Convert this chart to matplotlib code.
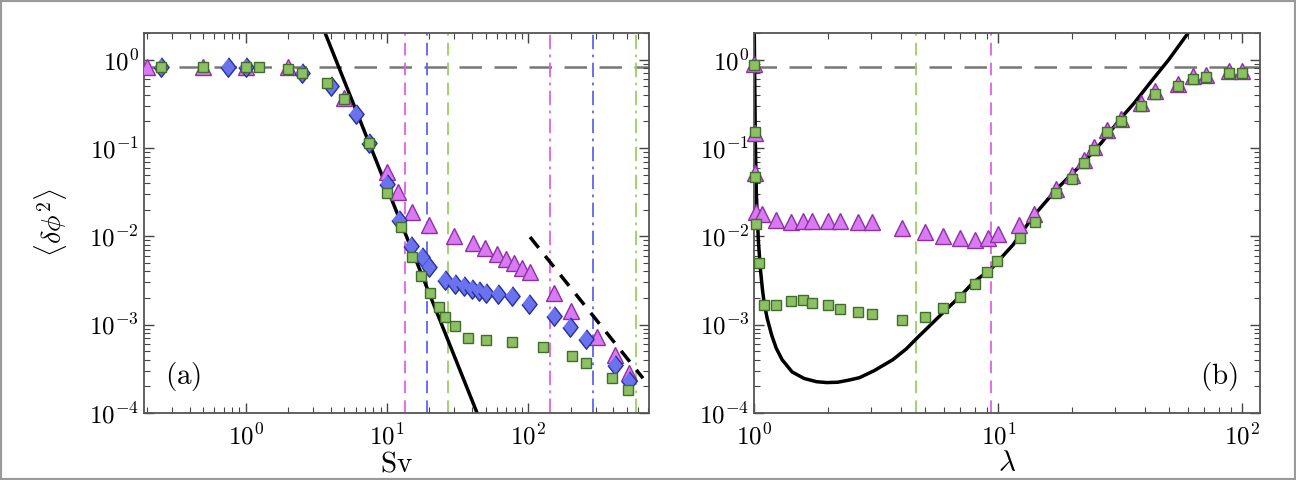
import numpy as np
import matplotlib
matplotlib.use("Agg")
import matplotlib.pyplot as plt
from matplotlib.patches import Rectangle

plt.rcParams['mathtext.fontset'] = 'cm'
plt.rcParams['font.family'] = 'serif'
plt.rcParams['font.serif'] = ['DejaVu Serif']

# ---- panel (a): <dphi^2> vs Sv ----
sv_tri = [0.2, 0.5, 1.0, 2.0, 5.0, 10, 11.9, 15, 20, 30, 40.7, 49.5, 60, 69.8, 79.6,
          90.5, 103, 153, 202, 309, 414, 520]
dp_tri = [0.83, 0.83, 0.83, 0.83, 0.37, 0.054, 0.032, 0.0186, 0.0135, 0.0100, 0.0084,
          0.0073, 0.0063, 0.0055, 0.0050, 0.0044, 0.0039, 0.0023, 0.00143, 7.3e-4,
          4.5e-4, 2.8e-4]

sv_dia = [0.25, 0.75, 1.0, 2.5, 4.0, 6.0, 7.5, 10, 12.2, 14.8, 17.7, 20, 25.8, 30.3,
          35.1, 40, 45, 50.3, 61, 77, 102, 153, 198, 258, 414, 520]
dp_dia = [0.83, 0.83, 0.83, 0.70, 0.50, 0.24, 0.114, 0.039, 0.0151, 0.0077, 0.0058,
          0.0045, 0.0032, 0.0029, 0.0027, 0.0025, 0.0024, 0.0023, 0.0022, 0.0021,
          0.0017, 0.00126, 9.3e-4, 6.9e-4, 3.5e-4, 2.3e-4]

sv_sq = [0.25, 0.5, 1.0, 1.25, 2.0, 2.5, 3.75, 5.0, 7.5, 10, 12.6, 15, 17.4, 20.2,
         23.5, 25.8, 30.3, 37.5, 50.3, 77, 128, 205, 258, 389, 510]
dp_sq = [0.83, 0.83, 0.83, 0.83, 0.78, 0.70, 0.55, 0.36, 0.114, 0.031, 0.0126, 0.0058,
         0.0035, 0.0023, 0.0016, 0.00123, 9.5e-4, 7.1e-4, 6.6e-4, 6.4e-4, 5.5e-4,
         4.4e-4, 3.7e-4, 2.5e-4, 1.8e-4]

sv_dashed = [13.4, 19.2, 27.0]      # vertical dashed lines (magenta, blue, green)
sv_dashdot = [143, 289, 583]        # vertical dash-dot lines (magenta, blue, green)
plateau = 0.82

# power laws drawn in panel (a)
sv_steep = [3.5, 45]
sv_tail = [103, 650]

# ---- panel (b): <dphi^2> vs lambda ----
lam_tri = [1.0, 1.003, 1.007, 1.02, 1.08, 1.23, 1.42, 1.58, 1.73, 2.0, 2.24, 2.65, 3.03,
           4.02, 5.0, 5.95, 6.97, 8.05, 9.1, 10, 12.2, 14.0, 17.3, 20, 22.4, 24.6, 28,
           31.8, 38.6, 44, 54.5, 63, 71, 88, 100]
dp_tri_b = [0.9, 0.147, 0.052, 0.0186, 0.0177, 0.0151, 0.0144, 0.0147, 0.015, 0.015,
            0.0147, 0.0144, 0.0144, 0.0123, 0.0111, 0.0100, 0.0095, 0.0091, 0.0095,
            0.0105, 0.0133, 0.018, 0.034, 0.049, 0.074, 0.103, 0.16, 0.215, 0.32,
            0.44, 0.53, 0.65, 0.67, 0.75, 0.75]

lam_sq = [1.0, 1.003, 1.007, 1.02, 1.05, 1.1, 1.23, 1.42, 1.58, 1.72, 2.0, 2.24, 2.65,
          3.03, 4.02, 5.0, 5.95, 6.97, 8.05, 9.0, 9.9, 12.3, 14.2, 17.3, 20, 22.4, 24.6,
          28, 31.8, 38.6, 44, 54.5, 63, 71, 88, 100]
dp_sq_b = [0.86, 0.15, 0.047, 0.0137, 0.0050, 1.68e-3, 1.68e-3, 1.86e-3, 1.9e-3,
           1.75e-3, 1.68e-3, 1.5e-3, 1.4e-3, 1.3e-3, 1.14e-3, 1.23e-3, 1.55e-3,
           2.05e-3, 2.9e-3, 3.9e-3, 5.2e-3, 9.5e-3, 0.0144, 0.031, 0.045, 0.068,
           0.095, 0.15, 0.2, 0.30, 0.41, 0.50, 0.61, 0.63, 0.71, 0.71]

# theory curve in panel (b)
lam_th = [1.0, 1.005, 1.01, 1.02, 1.04, 1.06, 1.08, 1.1, 1.13, 1.18, 1.23, 1.3, 1.43,
          1.6, 1.8, 1.98, 2.2, 2.45, 2.7, 3.1, 3.7, 4.2, 4.64, 5.3, 6.15, 7.0, 7.9,
          9.3, 11.5, 13.9, 17.5, 22.3, 26.5, 31.8, 36, 42, 50, 60]
dp_th = [2.0, 0.5, 0.12, 0.03, 0.0086, 0.0042, 0.0025, 0.0017, 0.00117, 7.5e-4, 5.4e-4,
         4.0e-4, 2.9e-4, 2.45e-4, 2.25e-4, 2.2e-4, 2.22e-4, 2.35e-4, 2.5e-4, 3.0e-4,
         4.0e-4, 5.3e-4, 7.0e-4, 1.0e-3, 1.5e-3, 2.1e-3, 3.0e-3, 4.2e-3, 8.0e-3,
         0.0168, 0.035, 0.068, 0.115, 0.217, 0.32, 0.55, 1.0, 2.0]
lam_dashed = [4.6, 9.36]   # green, magenta

ytick_vals = [1e-4, 1e-3, 1e-2, 1e-1, 1e0]
ytick_labels = [r'$10^{-4}$', r'$10^{-3}$', r'$10^{-2}$', r'$10^{-1}$', r'$10^{0}$']
xa_vals = [1, 10, 100]
xa_labels = [r'$10^{0}$', r'$10^{1}$', r'$10^{2}$']

mag_f, mag_e = '#D97AF2', '#8E2FA6'
blu_f, blu_e = '#6A72EE', '#25309E'
grn_f, grn_e = '#8DC062', '#3F6E2C'
mag_l, blu_l, grn_l = '#E060E8', '#5A64F0', '#98D060'
diamond = [(0, 1), (0.78, 0), (0, -1), (-0.78, 0)]

fig = plt.figure(figsize=(12.96, 4.8), dpi=100)
axa = fig.add_axes([0.111, 0.140, 0.390, 0.791])
axb = fig.add_axes([0.582, 0.140, 0.390, 0.791])

for ax in (axa, axb):
    ax.set_xscale('log')
    ax.set_yscale('log')
    ax.set_ylim(1e-4, 2)
    ax.axhline(plateau, color='#777777', lw=1.8, dashes=(9, 5), zorder=1)
    ax.tick_params(which='both', direction='in', top=True, right=True,
                   color='#444444', labelsize=18)
    ax.tick_params(which='major', length=7, width=1)
    ax.tick_params(which='minor', length=4, width=0.8)
    ax.tick_params(axis='x', which='major', pad=8)
    for s in ax.spines.values():
        s.set_color('#555555')
        s.set_linewidth(1.3)
    ax.set_yticks(ytick_vals, ytick_labels)

# panel (a)
axa.set_xlim(0.19, 720)
for x, c in zip(sv_dashed, [mag_l, blu_l, grn_l]):
    axa.axvline(x, color=c, lw=1.3, dashes=(7, 4), zorder=1)
for x, c in zip(sv_dashdot, [mag_l, blu_l, grn_l]):
    axa.axvline(x, color=c, lw=1.3, dashes=(8, 3, 1.5, 3), zorder=1)
steep = np.array(sv_steep, dtype=float)
axa.plot(steep, 355.0 / steep ** 4, color='black', lw=2.5, zorder=2)
tail = np.array(sv_tail, dtype=float)
axa.plot(tail, 104.0 / tail ** 2, color='black', lw=2.5, dashes=(4, 3), zorder=2)
axa.plot(sv_tri, dp_tri, ls='none', marker='^', ms=11, mfc=mag_f, mec=mag_e, mew=1, zorder=3)
axa.plot(sv_dia, dp_dia, ls='none', marker=diamond, ms=14, mfc=blu_f, mec=blu_e, mew=1, zorder=4)
axa.plot(sv_sq, dp_sq, ls='none', marker='s', ms=6.5, mfc=grn_f, mec=grn_e, mew=1, zorder=5)
axa.set_xticks(xa_vals, xa_labels)
axa.set_xlabel(r'$\mathrm{Sv}$', fontsize=21, labelpad=0)
axa.set_ylabel(r'$\langle \delta\phi^2 \rangle$', fontsize=20, labelpad=14)
axa.text(0.077, 0.095, r'$(\mathrm{a})$', transform=axa.transAxes, fontsize=21,
         ha='center', va='center')

# panel (b)
axb.set_xlim(1.0, 118)
for x, c in zip(lam_dashed, [grn_l, mag_l]):
    axb.axvline(x, color=c, lw=1.3, dashes=(7, 4), zorder=1)
axb.plot(lam_th, dp_th, color='black', lw=2.5, zorder=2)
axb.plot(lam_tri, dp_tri_b, ls='none', marker='^', ms=11, mfc=mag_f, mec=mag_e, mew=1,
         zorder=3, clip_on=False)
axb.plot(lam_sq, dp_sq_b, ls='none', marker='s', ms=6.5, mfc=grn_f, mec=grn_e, mew=1,
         zorder=4, clip_on=False)
axb.set_xticks(xa_vals, xa_labels)
axb.set_xlabel(r'$\lambda$', fontsize=21, labelpad=0)
axb.text(0.92, 0.095, r'$(\mathrm{b})$', transform=axb.transAxes, fontsize=21,
         ha='center', va='center')

fig.add_artist(Rectangle((0, 0), 1, 1, transform=fig.transFigure, fill=False,
                         edgecolor='#9a9a9a', lw=3))

fig.savefig('out.png', dpi=100)
